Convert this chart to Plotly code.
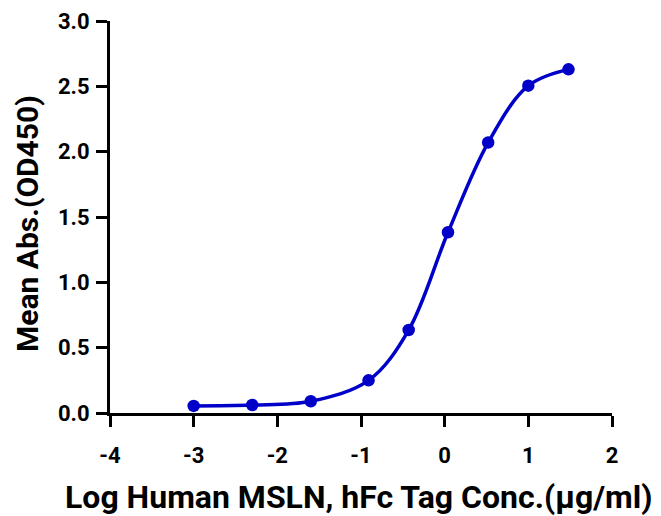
import plotly.graph_objects as go

log_conc = [-3.0, -2.3, -1.6, -0.91, -0.43, 0.04, 0.52, 1.0, 1.48]
mean_abs = [0.054, 0.061, 0.09, 0.25, 0.635, 1.383, 2.07, 2.505, 2.63]

x_ticks = [-4, -3, -2, -1, 0, 1, 2]
y_ticks = [0.0, 0.5, 1.0, 1.5, 2.0, 2.5, 3.0]

color = "#0000C8"
font_family = "Roboto"

fig = go.Figure()
fig.add_trace(go.Scatter(
    x=log_conc, y=mean_abs,
    mode="lines+markers",
    line=dict(color=color, width=3.5, shape="spline", smoothing=1.0),
    marker=dict(color=color, size=12.5),
    showlegend=False,
))

axis_common = dict(
    showline=True, linecolor="black", linewidth=3,
    ticks="outside", ticklen=11, tickwidth=3, tickcolor="black",
    showgrid=False, zeroline=False, automargin=False,
    tickfont=dict(family=font_family, size=22, color="black", weight=700),
)

fig.update_layout(
    width=661, height=516,
    margin=dict(l=102, r=57, t=13, b=111),
    paper_bgcolor="white", plot_bgcolor="white",
    xaxis=dict(
        range=[-4, 2], tickvals=x_ticks, ticktext=[str(v) for v in x_ticks],
        ticklabelstandoff=10,
        **axis_common,
    ),
    yaxis=dict(
        range=[0, 3], tickvals=y_ticks, ticktext=[f"{v:.1f}" for v in y_ticks],
        ticklabelstandoff=2,
        **axis_common,
    ),
    annotations=[
        dict(
            text="Mean Abs.(OD450)", textangle=-90,
            xref="paper", yref="paper", x=0, y=0.5,
            xanchor="center", yanchor="middle", xshift=-83, yshift=-7,
            showarrow=False,
            font=dict(family=font_family, size=30, color="black", weight=700),
        ),
        dict(
            text="Log Human MSLN, hFc Tag Conc.(µg/ml)",
            xref="paper", yref="paper", x=0.5, y=0,
            xanchor="center", yanchor="middle", xshift=-2, yshift=-84,
            showarrow=False,
            font=dict(family=font_family, size=32, color="black", weight=700),
        ),
    ],
)

fig.write_html("out.html")
